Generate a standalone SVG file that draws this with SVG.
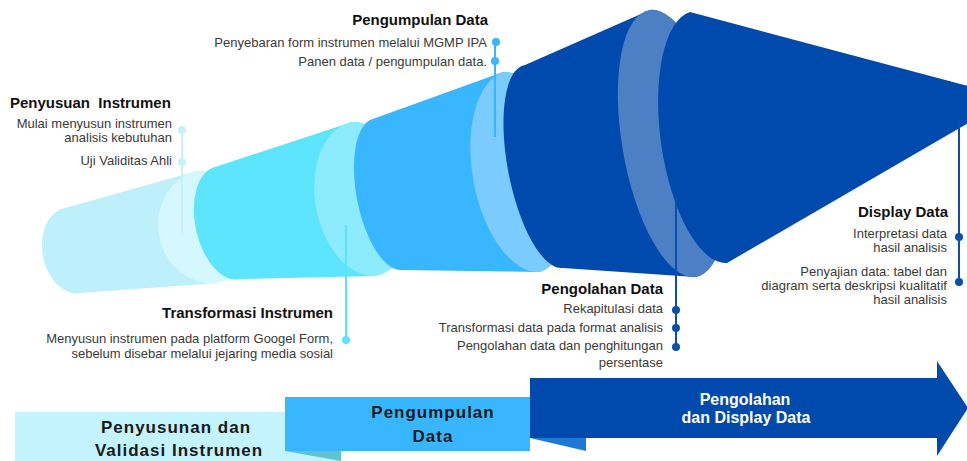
<svg xmlns="http://www.w3.org/2000/svg" width="967" height="461" viewBox="0 0 967 461">
<style>
text{font-family:"Liberation Sans",Arial,sans-serif}
.t{font-size:15px;font-weight:bold;fill:#111;text-anchor:end}
.d{font-size:13px;fill:#3a3a3a;text-anchor:end}
.b{font-size:17px;font-weight:bold;fill:#1a1a1a;text-anchor:middle;letter-spacing:1px}
.w{font-size:16px;font-weight:bold;fill:#fff;text-anchor:middle}
.ln{stroke-width:2;fill:none}
</style>
<rect width="967" height="461" fill="#fff"/>
<g id="funnel">
<g id="seg1">
<path d="M65 208 L197 171 A52 57 -10 0 1 217 283 L80 293 A30 43 -10 0 1 65 208 Z" fill="#BDF0FA"/>
<path d="M197 171 A52 57 -10 0 1 217 283 A52 57 -10 0 1 197 171 Z" fill="#D5F8FE"/>
</g>
<g id="seg2">
<path d="M215 167 L352 122 A51 78 -10 0 1 375 276 L240 279 A32 57 -12 0 1 215 167 Z" fill="#5CE5FD"/>
<path d="M352 122 A51 78 -10 0 1 375 276 A51 78 -10 0 1 352 122 Z" fill="#8CECFD"/>
</g>
<g id="seg3">
<path d="M370 120 L503 72 A53 102 -10 0 1 540 272 L400 270 A32 77 -11 0 1 370 120 Z" fill="#38B6FF"/>
<path d="M503 72 A53 102 -10 0 1 540 272 A53 102 -10 0 1 503 72 Z" fill="#7BCBFF"/>
</g>
<g id="seg4">
<path d="M525 65 L650 10 A50 135 -10 0 1 695 277 L563 268 A36 103 -11 0 1 525 65 Z" fill="#004AAD"/>
<path d="M650 10 A50 135 -10 0 1 695 277 A50 135 -10 0 1 650 10 Z" fill="#4C7FC4"/>
</g>
<g id="seg5">
<path d="M690 12 L975 88 L975 119 L727 263 A50 127 -8 0 1 690 12 Z" fill="#004AAD"/>
</g>
</g>
<g id="connectors">
<line class="ln" x1="182" y1="130" x2="182" y2="233" stroke="#C6F2FB"/>
<circle cx="182" cy="130" r="4" fill="#C6F2FB"/>
<circle cx="182" cy="162" r="4" fill="#C6F2FB"/>
<line class="ln" x1="346" y1="225" x2="346" y2="340" stroke="#5CE1FE"/>
<circle cx="346" cy="340" r="4" fill="#5CE1FE"/>
<line class="ln" x1="495" y1="42" x2="495" y2="137" stroke="#38B6FF"/>
<circle cx="496" cy="42" r="4" fill="#38B6FF"/>
<circle cx="495" cy="61" r="4" fill="#38B6FF"/>
<line class="ln" x1="676" y1="197" x2="676" y2="347" stroke="#0A4FB0"/>
<circle cx="676" cy="310" r="4" fill="#0A4FB0"/>
<circle cx="676" cy="328" r="4" fill="#0A4FB0"/>
<circle cx="676" cy="347" r="4" fill="#0A4FB0"/>
<line class="ln" x1="959" y1="120" x2="959" y2="282" stroke="#0A4FB0"/>
<circle cx="959" cy="237" r="4" fill="#0A4FB0"/>
<circle cx="959" cy="282" r="4" fill="#0A4FB0"/>
</g>
<g id="label-penyusuan">
<text x="10" y="108" class="t" style="text-anchor:start;white-space:pre">Penyusuan  Instrumen</text>
<text x="172" y="128" class="d">Mulai menyusun instrumen</text>
<text x="172" y="142" class="d">analisis kebutuhan</text>
<text x="172" y="165" class="d">Uji Validitas Ahli</text>
</g>
<g id="label-pengumpulan">
<text x="488" y="25" class="t">Pengumpulan Data</text>
<text x="487" y="47" class="d">Penyebaran form instrumen melalui MGMP IPA</text>
<text x="487" y="66" class="d">Panen data / pengumpulan data.</text>
</g>
<g id="label-transformasi">
<text x="333" y="318" class="t">Transformasi Instrumen</text>
<text x="333" y="343" class="d">Menyusun instrumen pada platform Googel Form,</text>
<text x="333" y="358" class="d">sebelum disebar melalui jejaring media sosial</text>
</g>
<g id="label-pengolahan">
<text x="663" y="294" class="t">Pengolahan Data</text>
<text x="663" y="313" class="d">Rekapitulasi data</text>
<text x="663" y="332" class="d">Transformasi data pada format analisis</text>
<text x="663" y="350" class="d">Pengolahan data dan penghitungan</text>
<text x="663" y="367" class="d">persentase</text>
</g>
<g id="label-display">
<text x="948" y="217" class="t">Display Data</text>
<text x="947" y="238" class="d">Interpretasi data</text>
<text x="947" y="252" class="d">hasil analisis</text>
<text x="947" y="276" class="d">Penyajian data: tabel dan</text>
<text x="947" y="290" class="d">diagram serta deskripsi kualitatif</text>
<text x="947" y="304" class="d">hasil analisis</text>
</g>
<g id="stage1">
<rect x="15" y="412" width="326" height="60" fill="#C3F3FD"/>
<polygon points="285,451 341,451 341,461" fill="#5FC3D3"/>
<text x="176" y="433" class="b">Penyusunan dan</text>
<text x="179" y="456" class="b">Validasi Instrumen</text>
</g>
<g id="stage2">
<rect x="285" y="397" width="245" height="54" fill="#38B6FF"/>
<polygon points="530,438 586,438 586,451" fill="#1C7AD4"/>
<text x="433" y="418" class="b">Pengumpulan</text>
<text x="433" y="442" class="b">Data</text>
</g>
<g id="stage3">
<polygon points="530,378 937,378 937,361 968,408 937,456 937,438 530,438" fill="#004AAD"/>
<text x="745" y="405" class="w">Pengolahan</text>
<text x="746" y="423" class="w">dan Display Data</text>
</g>
</svg>
